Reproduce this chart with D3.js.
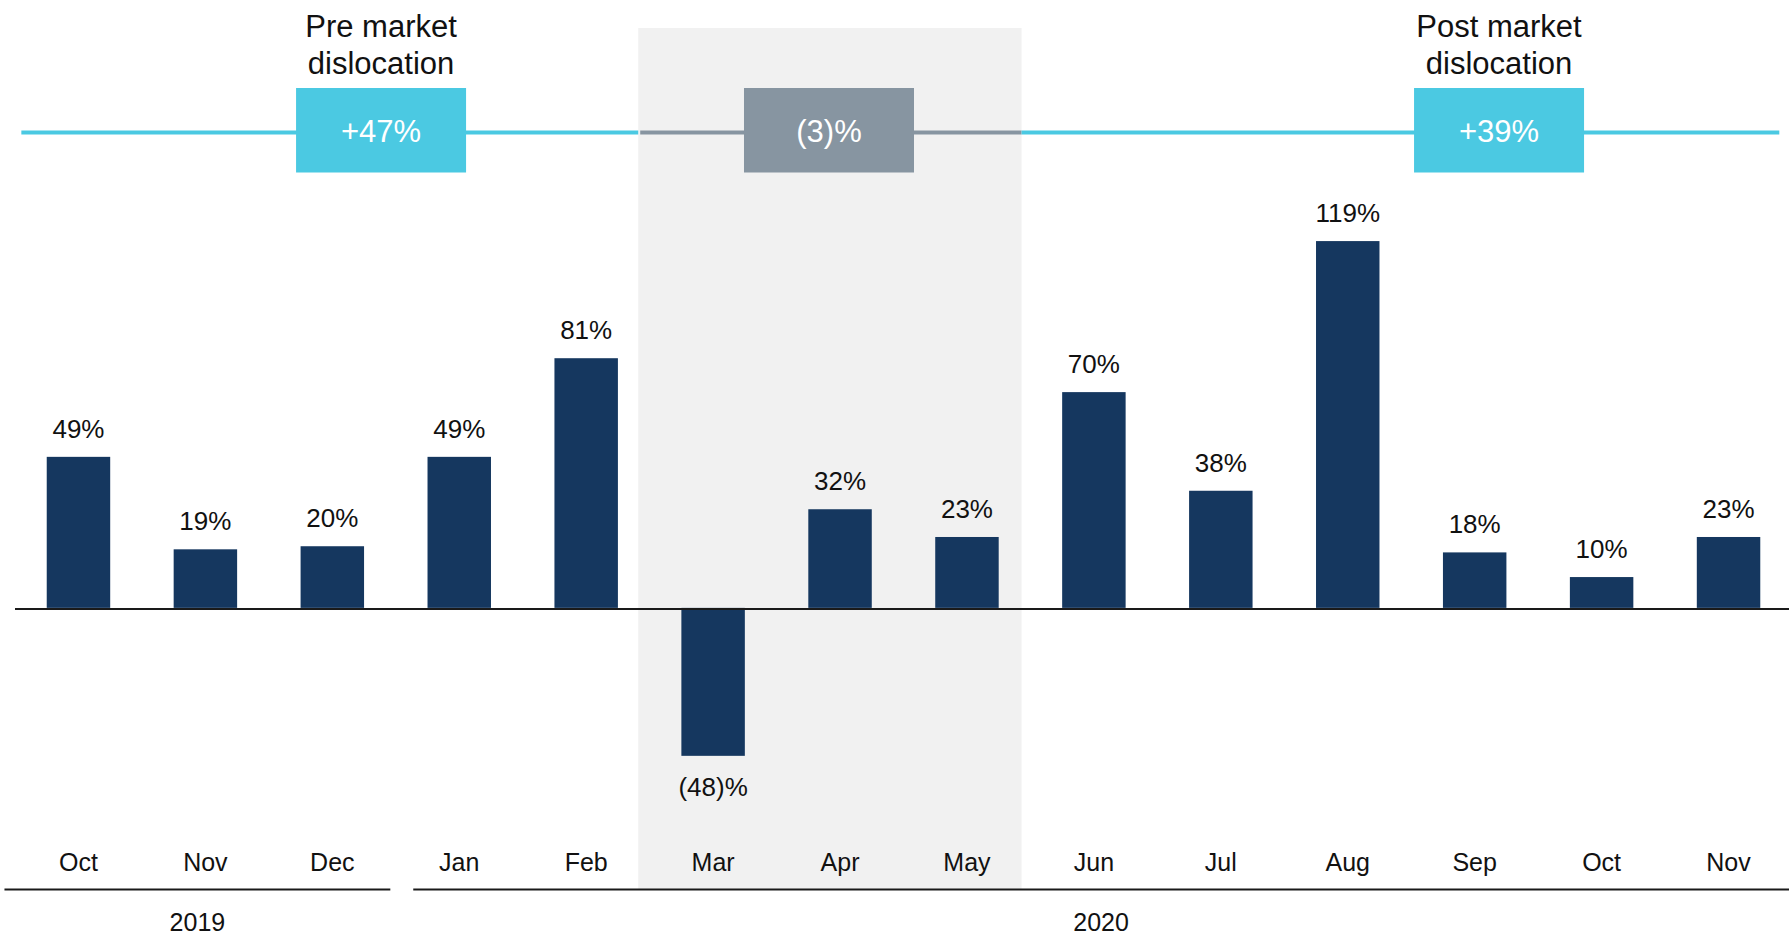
<!DOCTYPE html>
<html>
<head>
<meta charset="utf-8">
<script src="https://cdn.jsdelivr.net/npm/d3@7"></script>
<style>
  body { margin: 0; background: #fff; }
  text { font-family: "Liberation Sans", Arial, sans-serif; }
</style>
</head>
<body>
<div id="chart"></div>
<script>
// monthly values, Oct 2019 - Nov 2020
var months = ["Oct", "Nov", "Dec", "Jan", "Feb", "Mar", "Apr", "May", "Jun", "Jul", "Aug", "Sep", "Oct", "Nov"];
var values = [49, 19, 20, 49, 81, -48, 32, 23, 70, 38, 119, 18, 10, 23];

var years = ["2019", "2020"];
var yearStart = [0, 3];
var yearEnd = [2, 13];

var periodTitles = [["Pre market", "dislocation"], [], ["Post market", "dislocation"]];
var periodValues = ["+47%", "(3)%", "+39%"];
var periodStart = [0, 5, 8];
var periodEnd = [4, 7, 13];

var width = 1789, height = 935;
var cyan = "#4BC9E2", grey = "#8795A1", navy = "#15375F";

var svg = d3.select("#chart").append("svg")
  .attr("width", width)
  .attr("height", height);

// scales
var x = d3.scaleBand()
  .domain(d3.range(months.length))
  .range([15, 1792])
  .paddingInner(0.5)
  .paddingOuter(0.25);

var step = x.step(), bw = x.bandwidth();

var y = d3.scaleLinear()
  .domain([-50, 120])
  .range([762, 238]);

var fmt = function (v) { return v < 0 ? "(" + (-v) + ")%" : v + "%"; };

// shaded dislocation period
var shadeL = x(periodStart[1]) - 0.34 * step;
var shadeR = x(periodEnd[1]) + bw + 0.18 * step;
svg.append("rect")
  .attr("x", shadeL)
  .attr("y", 28)
  .attr("width", shadeR - shadeL)
  .attr("height", 889 - 28)
  .attr("fill", "#F1F1F1");

// period lines and boxes
var lineY = 132.5;
var segs = [
  [x(0) - 0.2 * step, shadeL, cyan],
  [shadeL + 2, shadeR, grey],
  [shadeR, x(months.length - 1) + bw + 0.15 * step, cyan]
];
var boxCenters = [
  x(2) + bw / 2 + 0.384 * step,
  x(6) + bw / 2 - 0.087 * step,
  x(11) + bw / 2 + 0.192 * step
];

segs.forEach(function (s, i) {
  svg.append("line")
    .attr("x1", s[0]).attr("x2", s[1])
    .attr("y1", lineY).attr("y2", lineY)
    .attr("stroke", s[2])
    .attr("stroke-width", 4);

  var cx = boxCenters[i];
  svg.append("rect")
    .attr("x", cx - 85)
    .attr("y", 88)
    .attr("width", 170)
    .attr("height", 84.5)
    .attr("fill", s[2]);

  svg.append("text")
    .attr("x", cx)
    .attr("y", 141.5)
    .attr("text-anchor", "middle")
    .attr("fill", "#fff")
    .style("font-size", "31px")
    .text(periodValues[i]);

  periodTitles[i].forEach(function (t, j) {
    svg.append("text")
      .attr("x", cx)
      .attr("y", 36.5 + j * 37.5)
      .attr("text-anchor", "middle")
      .attr("fill", "#111")
      .style("font-size", "31px")
      .text(t);
  });
});

// bars
svg.selectAll(".bar")
  .data(values)
  .enter().append("rect")
  .attr("class", "bar")
  .attr("x", function (d, i) { return x(i); })
  .attr("y", function (d) { return d >= 0 ? y(d) : y(0); })
  .attr("width", bw)
  .attr("height", function (d) { return Math.abs(y(d) - y(0)); })
  .attr("fill", navy);

// value labels
svg.selectAll(".val")
  .data(values)
  .enter().append("text")
  .attr("class", "val")
  .attr("x", function (d, i) { return x(i) + bw / 2; })
  .attr("y", function (d) { return d >= 0 ? y(d) - 19 : y(d) + 40; })
  .attr("text-anchor", "middle")
  .attr("fill", "#111")
  .style("font-size", "26px")
  .text(fmt);

// zero line
svg.append("line")
  .attr("x1", 15).attr("x2", width)
  .attr("y1", y(0) + 1).attr("y2", y(0) + 1)
  .attr("stroke", "#1a1a1a")
  .attr("stroke-width", 2);

// month labels
svg.selectAll(".month")
  .data(months)
  .enter().append("text")
  .attr("class", "month")
  .attr("x", function (d, i) { return x(i) + bw / 2; })
  .attr("y", 871)
  .attr("text-anchor", "middle")
  .attr("fill", "#111")
  .style("font-size", "25px")
  .text(function (d) { return d; });

// year brackets
var yearL = [x(yearStart[0]) + bw / 2 - 74, x(yearStart[1]) + bw / 2 - 46];
var yearR = [x(yearEnd[0]) + bw / 2 + 58, width];
years.forEach(function (yr, i) {
  svg.append("line")
    .attr("x1", yearL[i]).attr("x2", yearR[i])
    .attr("y1", 889.5).attr("y2", 889.5)
    .attr("stroke", "#1a1a1a")
    .attr("stroke-width", 2);
  svg.append("text")
    .attr("x", (yearL[i] + yearR[i]) / 2)
    .attr("y", 931)
    .attr("text-anchor", "middle")
    .attr("fill", "#111")
    .style("font-size", "25px")
    .text(yr);
});
</script>
</body>
</html>
